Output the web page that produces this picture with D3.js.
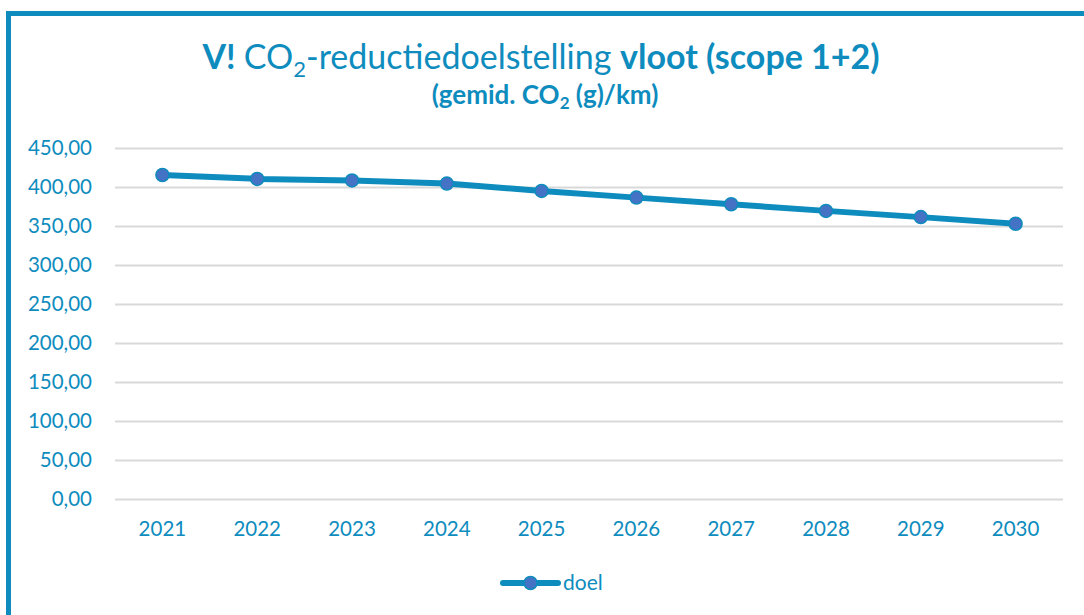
<!DOCTYPE html>
<html>
<head>
<meta charset="utf-8">
<script src="https://cdn.jsdelivr.net/npm/d3@7"></script>
<style>
  body { margin: 0; background: #fff; }
  text { font-family: Lato, "Open Sans", sans-serif; }
</style>
</head>
<body>
<script>
// data
const years = ["2021", "2022", "2023", "2024", "2025", "2026", "2027", "2028", "2029", "2030"];
const doel = [415, 410, 408, 404, 394.5, 386, 377.5, 369, 361, 352.5];
const yTicks = [0, 50, 100, 150, 200, 250, 300, 350, 400, 450];
const seriesName = "doel";

const W = 1084, H = 615;
const blue = "#0e8cbe", marker = "#4472c4";

const svg = d3.select("body").append("svg")
    .attr("width", W)
    .attr("height", H);

// frame (only top and left edges are visible)
svg.append("path")
    .attr("d", "M8.5," + H + " V13.5 H" + W)
    .attr("fill", "none")
    .attr("stroke", blue)
    .attr("stroke-width", 5);

// plot area
const plotLeft = 115, plotRight = 1063, plotTop = 147.7, plotBottom = 498.7;

const x = d3.scaleBand().domain(years).range([plotLeft, plotRight]);
const y = d3.scaleLinear().domain([0, 450]).range([plotBottom, plotTop]);

// gridlines
svg.append("g")
    .selectAll("line")
    .data(yTicks)
    .join("line")
    .attr("x1", plotLeft)
    .attr("x2", plotRight)
    .attr("y1", d => Math.round(y(d)) + 0.5)
    .attr("y2", d => Math.round(y(d)) + 0.5)
    .attr("stroke", "#d9d9d9")
    .attr("stroke-width", 2);

// y axis labels
const fmt = d => d3.format(".2f")(d).replace(".", ",");
svg.append("g")
    .attr("transform", "translate(92,0)")
    .call(d3.axisLeft(y).tickValues(yTicks).tickFormat(fmt).tickSize(0).tickPadding(0))
    .call(g => g.select(".domain").remove())
    .selectAll("text")
    .attr("fill", blue)
    .style("font-size", "20.5px")
    .style("font-family", "Lato, sans-serif");

// x axis labels
svg.append("g")
    .attr("transform", "translate(0," + (plotBottom + 17) + ")")
    .call(d3.axisBottom(x).tickSize(0).tickPadding(0))
    .call(g => g.select(".domain").remove())
    .selectAll("text")
    .attr("fill", blue)
    .attr("dy", "1em")
    .style("font-size", "20.5px")
    .style("font-family", "Lato, sans-serif");

// line
const line = d3.line()
    .x((d, i) => x(years[i]) + x.bandwidth() / 2)
    .y(d => y(d));

svg.append("path")
    .datum(doel)
    .attr("d", line)
    .attr("fill", "none")
    .attr("stroke", blue)
    .attr("stroke-width", 6)
    .attr("stroke-linejoin", "round");

svg.append("g")
    .selectAll("circle")
    .data(doel)
    .join("circle")
    .attr("cx", (d, i) => x(years[i]) + x.bandwidth() / 2)
    .attr("cy", d => y(d))
    .attr("r", 6.5)
    .attr("fill", marker)
    .attr("stroke", blue)
    .attr("stroke-width", 1.5);

// title
const title = svg.append("text")
    .attr("x", 541)
    .attr("y", 69)
    .attr("text-anchor", "middle")
    .attr("fill", blue)
    .style("font-size", "34px");
title.append("tspan").attr("font-weight", "bold").text("V! ");
title.append("tspan").text("CO");
title.append("tspan").attr("dy", 8).style("font-size", "22px").text("2");
title.append("tspan").attr("dy", -8).text("-reductiedoelstelling ");
title.append("tspan").attr("font-weight", "bold").text("vloot (scope 1+2)");

const sub = svg.append("text")
    .attr("x", 545)
    .attr("y", 104)
    .attr("text-anchor", "middle")
    .attr("fill", blue)
    .attr("font-weight", "bold")
    .style("font-size", "26px");
sub.append("tspan").text("(gemid. CO");
sub.append("tspan").attr("dy", 5).style("font-size", "17px").text("2");
sub.append("tspan").attr("dy", -5).text(" (g)/km)");

// legend
const lg = svg.append("g").attr("transform", "translate(503,583)");
lg.append("line")
    .attr("x1", 0).attr("x2", 55)
    .attr("stroke", blue)
    .attr("stroke-width", 6)
    .attr("stroke-linecap", "round");
lg.append("circle")
    .attr("cx", 27.5)
    .attr("r", 6.5)
    .attr("fill", marker)
    .attr("stroke", blue)
    .attr("stroke-width", 1.5);
lg.append("text")
    .attr("x", 60)
    .attr("y", 7)
    .attr("fill", blue)
    .style("font-size", "21px")
    .text(seriesName);
</script>
</body>
</html>
